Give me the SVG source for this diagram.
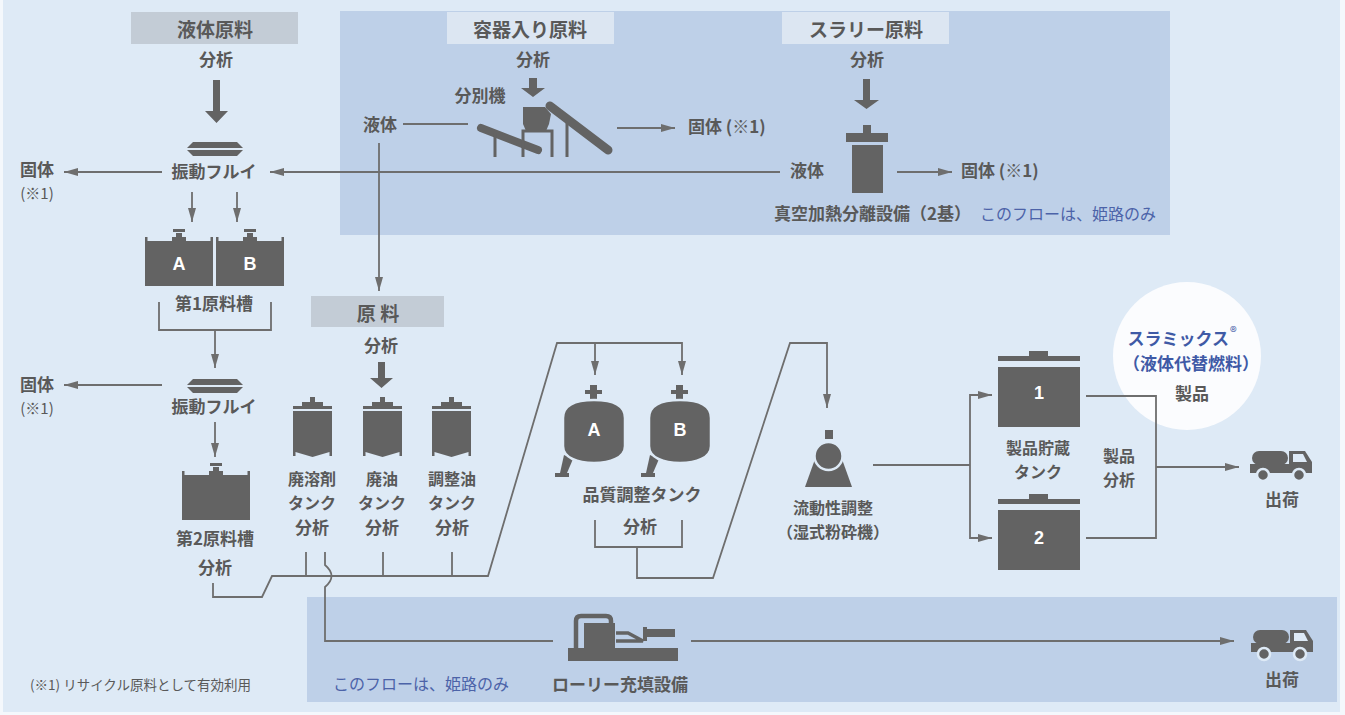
<svg xmlns="http://www.w3.org/2000/svg" xmlns:xlink="http://www.w3.org/1999/xlink" width="1345" height="715" viewBox="0 0 1345 715">
<style>
.t{font-family:"Noto Sans CJK JP","Liberation Sans",sans-serif;fill:#595959;font-weight:700;font-size:17px;text-anchor:middle}
.s{text-anchor:start}
.h{font-size:19px}
.m{font-size:16px}
.w{fill:#ffffff;font-family:"Liberation Sans",sans-serif;font-size:18px}
.r{font-weight:400;font-size:15px}
.blue{fill:#4c63a8;font-weight:400;font-size:16px}
.bb{fill:#3f5aa6;font-weight:700}
.ln{stroke:#6e6e6e;stroke-width:1.8;fill:none}
.ic{fill:#636363}
.gap{stroke:#deeaf6}
</style>
<defs>
<marker id="ah" viewBox="0 0 14 8" refX="14" refY="4" markerWidth="14" markerHeight="8" orient="auto" markerUnits="userSpaceOnUse">
<path d="M0,0 L14,4 L0,8 Z" fill="#6e6e6e"/>
</marker>
<g id="screen" class="ic">
<polygon points="6,0 50,0 56,6 0,6"/>
<polygon points="0,8 56,8 50,14 6,14"/>
</g>
<g id="rawtank" class="ic">
<rect x="28" y="0" width="12" height="3"/>
<rect x="31" y="4" width="6" height="6"/>
<rect x="27" y="8" width="14" height="4"/>
<rect x="0" y="8" width="2.5" height="5"/>
<rect x="65.5" y="8" width="2.5" height="5"/>
<rect x="0" y="12" width="68" height="45"/>
</g>
<g id="stank" class="ic">
<rect x="17" y="0" width="5" height="6"/>
<rect x="9" y="5" width="21" height="4"/>
<rect x="0" y="9" width="39" height="3"/>
<polygon points="0,14 39,14 39,59 36.5,59 36.5,55 19.5,60 2.5,55 2.5,59 0,59"/>
</g>
<g id="qtank">
<rect class="ic" x="27" y="0" width="7" height="15"/>
<rect class="ic" x="22" y="5" width="17" height="4"/>
<polygon class="ic" points="1,70 10,74 4,88 -3,88"/>
<rect class="ic" x="-8" y="88" width="14" height="4"/>
<path class="ic gap" stroke-width="2.5" d="M0,33 C0,19 15,15 31,15 C47,15 62,19 62,33 L62,61 C62,73 47,78 31,78 C15,78 0,73 0,61 Z"/>
</g>
<g id="ptank" class="ic">
<rect x="31" y="0" width="19" height="6"/>
<rect x="0" y="5" width="82" height="5"/>
<rect x="0" y="16" width="82" height="60"/>
</g>
<g id="truck">
<rect class="ic" x="2" y="1" width="36" height="14" rx="7"/>
<rect class="ic" x="0" y="14" width="62" height="9"/>
<polygon class="ic" points="39,1 55,1 62,12 62,23 39,23"/>
<polygon fill="#deeaf6" points="43,4 53,4 57,12 43,12"/>
<circle class="ic gap" stroke-width="2.5" cx="13" cy="25" r="6"/>
<circle class="ic gap" stroke-width="2.5" cx="49" cy="25" r="6"/>
</g>
</defs>

<g id="background">
<rect x="0" y="0" width="1345" height="715" fill="#f4f8fc"/>
<rect x="3" y="0" width="1337" height="712" fill="#deeaf6"/>
<rect x="340" y="11" width="830" height="224" fill="#bed0e8"/>
<rect x="307" y="597" width="1030" height="105" fill="#bed0e8"/>
<circle cx="1187" cy="356" r="74" fill="#fbfcfe"/>
</g>

<g id="connectors">
<line class="ln" x1="403" y1="124" x2="468" y2="124"/>
<line class="ln" x1="617" y1="128" x2="675" y2="128" marker-end="url(#ah)"/>
<line class="ln" x1="780" y1="172" x2="270" y2="172" marker-end="url(#ah)"/>
<line class="ln" x1="897" y1="172" x2="952" y2="172" marker-end="url(#ah)"/>
<line class="ln" x1="379" y1="143" x2="379" y2="291" marker-end="url(#ah)"/>
<line class="ln" x1="162" y1="172" x2="64" y2="172" marker-end="url(#ah)"/>
<line class="ln" x1="192" y1="192" x2="192" y2="222" marker-end="url(#ah)"/>
<line class="ln" x1="237" y1="192" x2="237" y2="222" marker-end="url(#ah)"/>
<path class="ln" d="M159,302 V330 H271 V302"/>
<line class="ln" x1="215" y1="330" x2="215" y2="368" marker-end="url(#ah)"/>
<line class="ln" x1="162" y1="385" x2="64" y2="385" marker-end="url(#ah)"/>
<line class="ln" x1="215" y1="422" x2="215" y2="457" marker-end="url(#ah)"/>
<path class="ln" d="M213,583 V597 H262 L272,576 H488 L557,343 H682 V375" marker-end="url(#ah)"/>
<line class="ln" x1="595" y1="343" x2="595" y2="375" marker-end="url(#ah)"/>
<line class="ln" x1="306" y1="552" x2="306" y2="576"/>
<line class="ln" x1="383" y1="552" x2="383" y2="576"/>
<line class="ln" x1="452" y1="552" x2="452" y2="576"/>
<path class="ln" d="M325,552 V565 Q338,576 325,587 V641 H553"/>
<line class="ln" x1="691" y1="641" x2="1234" y2="641" marker-end="url(#ah)"/>
<path class="ln" d="M595,520 V547 H682 V520"/>
<path class="ln" d="M637,547 V578 H713 L790,343 H827 V408" marker-end="url(#ah)"/>
<line class="ln" x1="873" y1="465" x2="970" y2="465"/>
<path class="ln" d="M970,465 V395 H992" marker-end="url(#ah)"/>
<path class="ln" d="M970,465 V538 H992" marker-end="url(#ah)"/>
<path class="ln" d="M1086,396 H1156 V538 H1086"/>
<line class="ln" x1="1156" y1="467" x2="1239" y2="467" marker-end="url(#ah)"/>
</g>

<g id="liquid-raw">
<rect x="131" y="12" width="167" height="32" fill="#c3ccd6"/>
<text class="t h" x="215" y="37">液体原料</text>
<text class="t" x="216" y="66">分析</text>
<polygon class="ic" points="213,80 220,80 220,111 228,111 216.5,123 205,111 213,111"/>
</g>

<g id="container-raw">
<rect x="447" y="12" width="167" height="32" fill="#dce6f2"/>
<text class="t h" x="530" y="37">容器入り原料</text>
<text class="t" x="533" y="66">分析</text>
<polygon class="ic" points="529,78 537,78 537,88 545,88 533,97 521,88 529,88"/>
<text class="t" x="480" y="102">分別機</text>
<text class="t" x="380" y="131">液体</text>
<text class="t s" x="688" y="133">固体 (※1)</text>
</g>

<g id="separator">
<line x1="481" y1="128" x2="538" y2="150" stroke="#636363" stroke-width="8" stroke-linecap="round"/>
<line x1="495" y1="133" x2="495" y2="157" stroke="#636363" stroke-width="3"/>
<path d="M523,157 V131 H552 V157" stroke="#636363" stroke-width="3" fill="none"/>
<polygon class="ic" points="523,107 545,107 551,114 549,124 546,131 526,131 523,124"/>
<line x1="567" y1="121" x2="567" y2="157" stroke="#636363" stroke-width="3"/>
<line x1="550" y1="106" x2="608" y2="150" stroke="#636363" stroke-width="9" stroke-linecap="round"/>
</g>

<g id="slurry-raw">
<rect x="782" y="12" width="167" height="32" fill="#dce6f2"/>
<text class="t h" x="866" y="37">スラリー原料</text>
<text class="t" x="867" y="66">分析</text>
<polygon class="ic" points="863,79 870,79 870,100 879,100 866.5,109 854,100 863,100"/>
</g>

<g id="vacuum-separator">
<rect class="ic" x="863" y="125" width="8" height="9"/>
<rect class="ic" x="846" y="133" width="42" height="9"/>
<rect class="ic" x="852" y="145" width="31" height="48"/>
<text class="t" x="807" y="177">液体</text>
<text class="t s" x="961" y="177">固体 (※1)</text>
<text class="t s" x="774" y="220">真空加熱分離設備（2基）</text>
<text class="t s blue" x="980" y="220">このフローは、姫路のみ</text>
</g>

<g id="screen1">
<use xlink:href="#screen" href="#screen" x="187" y="142"/>
<text class="t" x="214" y="178">振動フルイ</text>
<text class="t" x="37" y="176">固体</text>
<text class="t r" x="37" y="199">(※1)</text>
</g>

<g id="tank1">
<use xlink:href="#rawtank" href="#rawtank" x="145" y="229"/>
<use xlink:href="#rawtank" href="#rawtank" x="216" y="229"/>
<text class="t w" x="179" y="270">A</text>
<text class="t w" x="250" y="270">B</text>
<text class="t" x="214" y="310">第1原料槽</text>
</g>

<g id="screen2">
<use xlink:href="#screen" href="#screen" x="187" y="379"/>
<text class="t" x="214" y="413">振動フルイ</text>
<text class="t" x="37" y="391">固体</text>
<text class="t r" x="37" y="414">(※1)</text>
</g>

<g id="tank2">
<use xlink:href="#rawtank" href="#rawtank" x="182" y="463"/>
<text class="t" x="215" y="545">第2原料槽</text>
<text class="t" x="215" y="574">分析</text>
</g>

<g id="raw-material">
<rect x="311" y="296" width="133" height="31" fill="#c3ccd6"/>
<text class="t h" x="378" y="321">原 料</text>
<text class="t" x="381" y="352">分析</text>
<polygon class="ic" points="378,362 385,362 385,378 393,378 381.5,388 370,378 378,378"/>
</g>

<g id="solvent-tank">
<use xlink:href="#stank" href="#stank" x="293" y="397"/>
<text class="t m" x="312" y="485">廃溶剤</text>
<text class="t m" x="312" y="508.5">タンク</text>
<text class="t" x="312" y="533.5">分析</text>
</g>
<g id="waste-oil-tank">
<use xlink:href="#stank" href="#stank" x="363" y="397"/>
<text class="t m" x="382" y="485">廃油</text>
<text class="t m" x="382" y="508.5">タンク</text>
<text class="t" x="382" y="533.5">分析</text>
</g>
<g id="adjust-oil-tank">
<use xlink:href="#stank" href="#stank" x="432" y="397"/>
<text class="t m" x="452" y="485">調整油</text>
<text class="t m" x="452" y="508.5">タンク</text>
<text class="t" x="452" y="533.5">分析</text>
</g>

<g id="quality-tank">
<use xlink:href="#qtank" href="#qtank" x="563" y="385"/>
<use xlink:href="#qtank" href="#qtank" x="649" y="385"/>
<text class="t w" x="594" y="436">A</text>
<text class="t w" x="680" y="436">B</text>
<text class="t" x="642" y="501">品質調整タンク</text>
<text class="t" x="640" y="533">分析</text>
</g>

<g id="wet-grinder">
<rect class="ic" x="825" y="430" width="8" height="9"/>
<polygon class="ic" points="819,448 838,448 852,487 805,487"/>
<circle class="ic gap" stroke-width="2.5" cx="828.5" cy="456" r="14"/>
<text class="t m" x="833" y="514">流動性調整</text>
<text class="t m" x="833" y="537.5">（湿式粉砕機）</text>
</g>

<g id="product-tanks">
<use xlink:href="#ptank" href="#ptank" x="998" y="351"/>
<use xlink:href="#ptank" href="#ptank" x="998" y="494"/>
<text class="t w" x="1039" y="399">1</text>
<text class="t w" x="1039" y="544">2</text>
<text class="t m" x="1038" y="454">製品貯蔵</text>
<text class="t m" x="1038" y="477.5">タンク</text>
<text class="t m" x="1119" y="462">製品</text>
<text class="t m" x="1119" y="485.5">分析</text>
</g>

<g id="product">
<text class="t bb" x="1182" y="345">スラミックス<tspan dx="1" dy="-8" style="font-size:14px;font-weight:400">®</tspan></text>
<text class="t bb" x="1191" y="369.5">（液体代替燃料）</text>
<text class="t" x="1192" y="400">製品</text>
</g>

<g id="shipping1">
<use xlink:href="#truck" href="#truck" x="1250" y="450"/>
<text class="t" x="1282" y="506">出荷</text>
</g>

<g id="lorry-filling">
<rect class="ic" x="568" y="648" width="110" height="13"/>
<rect class="ic" x="584" y="623" width="31" height="25"/>
<path d="M576,648 V621 Q576,616 581,616 H606 Q611,616 611,621 V624" stroke="#636363" stroke-width="4.5" fill="none"/>
<path d="M616,633 H628 L643,641 H616" stroke="#636363" stroke-width="3.5" fill="none"/>
<rect class="ic" x="643" y="627" width="4" height="14"/>
<rect class="ic" x="646" y="629" width="29" height="8"/>
<text class="t" x="620" y="691">ローリー充填設備</text>
<text class="t s blue" x="333" y="690">このフローは、姫路のみ</text>
</g>

<g id="shipping2">
<use xlink:href="#truck" href="#truck" x="1251" y="629"/>
<text class="t" x="1282" y="686">出荷</text>
</g>

<g id="footnote">
<text class="t s r" x="30" y="690" style="font-size:13.5px">(※1) リサイクル原料として有効利用</text>
</g>
</svg>
